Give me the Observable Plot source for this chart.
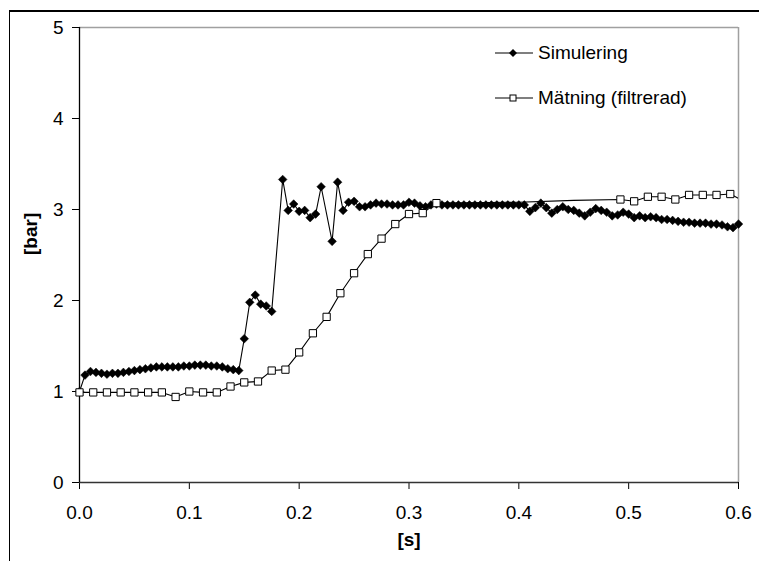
<!DOCTYPE html>
<html>
<head>
<meta charset="utf-8">
<script src="https://cdn.jsdelivr.net/npm/d3@7"></script>
<script src="https://cdn.jsdelivr.net/npm/@observablehq/plot@0.6"></script>
<style>
  html, body { margin: 0; padding: 0; background: #fff; }
  #wrap { position: relative; width: 759px; height: 561px; overflow: hidden; font-family: "Liberation Sans", Arial, sans-serif; }
  #frame { position: absolute; left: 9px; top: 10px; width: 800px; height: 600px; border-left: 1px solid #000; border-top: 2px solid #000; }
  #legend { position: absolute; left: 494px; top: 38px; font-size: 19px; color: #000; }
  .row { display: flex; align-items: center; height: 30px; margin-bottom: 15px; }
  .row svg { margin-right: 4px; }
</style>
</head>
<body>
<div id="wrap">
  <div id="frame"></div>
  <div id="chart"></div>
  <div id="legend"></div>
</div>
<script>
// Simulering (time [s], pressure [bar])
const simT = [0,0.005,0.01,0.015,0.02,0.025,0.03,0.035,0.04,0.045,0.05,0.055,0.06,0.065,0.07,0.075,0.08,0.085,0.09,0.095,
  0.1,0.105,0.11,0.115,0.12,0.125,0.13,0.135,0.14,0.145,0.15,0.155,0.16,0.165,0.17,0.175,0.185,0.19,0.195,0.2,
  0.205,0.21,0.215,0.22,0.23,0.235,0.24,0.245,0.25,0.255,0.26,0.265,0.27,0.275,0.28,0.285,0.29,0.295,0.3,0.305,
  0.31,0.315,0.32,0.325,0.33,0.335,0.34,0.345,0.35,0.355,0.36,0.365,0.37,0.375,0.38,0.385,0.39,0.395,0.4,0.405,
  0.41,0.415,0.42,0.425,0.43,0.435,0.44,0.445,0.45,0.455,0.46,0.465,0.47,0.475,0.48,0.485,0.49,0.495,0.5,0.505,
  0.51,0.515,0.52,0.525,0.53,0.535,0.54,0.545,0.55,0.555,0.56,0.565,0.57,0.575,0.58,0.585,0.59,0.595,0.6];
const simV = [1.00,1.18,1.22,1.21,1.20,1.19,1.20,1.20,1.21,1.22,1.23,1.24,1.25,1.26,1.27,1.27,1.27,1.27,1.27,1.28,
  1.28,1.29,1.29,1.29,1.28,1.28,1.27,1.25,1.24,1.23,1.58,1.98,2.06,1.96,1.94,1.88,3.33,2.99,3.06,2.98,
  2.99,2.91,2.95,3.25,2.65,3.30,2.99,3.08,3.09,3.03,3.03,3.05,3.07,3.06,3.06,3.05,3.05,3.05,3.08,3.07,
  3.04,3.03,3.05,3.06,3.05,3.05,3.05,3.05,3.05,3.05,3.05,3.05,3.05,3.05,3.05,3.05,3.05,3.05,3.05,3.05,
  2.98,3.02,3.07,3.02,2.96,3.00,3.03,3.00,2.99,2.96,2.93,2.97,3.01,2.99,2.97,2.93,2.94,2.97,2.95,2.91,
  2.93,2.91,2.92,2.91,2.89,2.89,2.88,2.87,2.86,2.86,2.85,2.85,2.85,2.84,2.84,2.83,2.81,2.80,2.84];

// Mätning (filtrerad)
const matT = [0,0.0125,0.025,0.0375,0.05,0.0625,0.075,0.0875,0.1,0.1125,0.125,0.1375,0.15,0.1625,0.175,0.1875,
  0.2,0.2125,0.225,0.2375,0.25,0.2625,0.275,0.2875,0.3,0.3125,0.325,0.4,0.45,0.4925,0.505,0.5175,0.53,0.5425,
  0.555,0.5675,0.58,0.5925,0.605];
const matV = [0.99,0.99,0.99,0.99,0.99,0.99,0.99,0.94,1.00,0.99,0.99,1.055,1.10,1.11,1.23,1.24,
  1.43,1.64,1.82,2.08,2.30,2.51,2.68,2.84,2.95,2.96,3.07,3.08,3.10,3.11,3.09,3.14,3.14,3.11,
  3.16,3.16,3.16,3.17,3.09];
const matMarker = [1,1,1,1,1,1,1,1,1,1,1,1,1,1,1,1,1,1,1,1,1,1,1,1,1,1,1,0,0,1,1,1,1,1,1,1,1,1,0];

const xTicks = [0,0.1,0.2,0.3,0.4,0.5,0.6];
const yTicks = [0,1,2,3,4,5];
const seriesNames = ["Simulering", "Mätning (filtrerad)"];

const sim = simT.map((t, i) => ({t, v: simV[i]}));
const mat = matT.map((t, i) => ({t, v: matV[i], m: matMarker[i] === 1}));

const chart = Plot.plot({
  width: 759, height: 561,
  marginLeft: 79, marginRight: 21, marginTop: 27, marginBottom: 79,
  style: {fontFamily: "'Liberation Sans', Arial, sans-serif", fontSize: "19px", color: "#000", background: "transparent", overflow: "visible"},
  x: {domain: [0, 0.6]},
  y: {domain: [0, 5]},
  marks: [
    Plot.ruleY([5], {stroke: "#a0a0a0", strokeWidth: 1.5}),
    Plot.ruleX([0.6], {stroke: "#a0a0a0", strokeWidth: 1.5}),
    Plot.axisX({ticks: xTicks, tickSize: 7, tickPadding: 16, tickFormat: d => d.toFixed(1), label: null, fontSize: 19, strokeOpacity: 1}),
    Plot.axisY({ticks: yTicks, tickSize: 7, tickPadding: 9, tickFormat: d => String(d), label: null, fontSize: 19, strokeOpacity: 1}),
    Plot.ruleY([0], {stroke: "#333", strokeWidth: 1.3}),
    Plot.ruleX([0], {stroke: "#000", strokeWidth: 1.3}),
    Plot.line(sim, {x: "t", y: "v", stroke: "#000", strokeWidth: 1.1}),
    Plot.dot(sim, {x: "t", y: "v", symbol: "diamond2", r: 3.9, fill: "#000", stroke: "#000", strokeWidth: 0.5}),
    Plot.line(mat, {x: "t", y: "v", stroke: "#000", strokeWidth: 1.1, clip: true}),
    Plot.dot(mat.filter(d => d.m), {x: "t", y: "v", symbol: "square", r: 4.1, fill: "#fff", stroke: "#000", strokeWidth: 1}),
    Plot.text(["[bar]"], {frameAnchor: "left", dx: -49, rotate: -90, fontWeight: "bold", fontSize: 19}),
    Plot.text(["[s]"], {frameAnchor: "bottom", dy: 63, fontWeight: "bold", fontSize: 19})
  ]
});
document.getElementById("chart").appendChild(chart);

// Legend
const legend = document.getElementById("legend");
const swatches = [
  '<svg width="40" height="14"><line x1="1" y1="7" x2="39" y2="7" stroke="#000" stroke-width="1.2"/><path d="M19,3 L23,7 L19,11 L15,7 Z" fill="#000"/></svg>',
  '<svg width="40" height="14"><line x1="1" y1="7" x2="39" y2="7" stroke="#000" stroke-width="1.2"/><rect x="16" y="4" width="6" height="6" fill="#fff" stroke="#000" stroke-width="1"/></svg>'
];
seriesNames.forEach((name, i) => {
  const row = document.createElement("div");
  row.className = "row";
  row.innerHTML = swatches[i];
  const span = document.createElement("span");
  span.textContent = name;
  row.appendChild(span);
  legend.appendChild(row);
});
</script>
</body>
</html>
